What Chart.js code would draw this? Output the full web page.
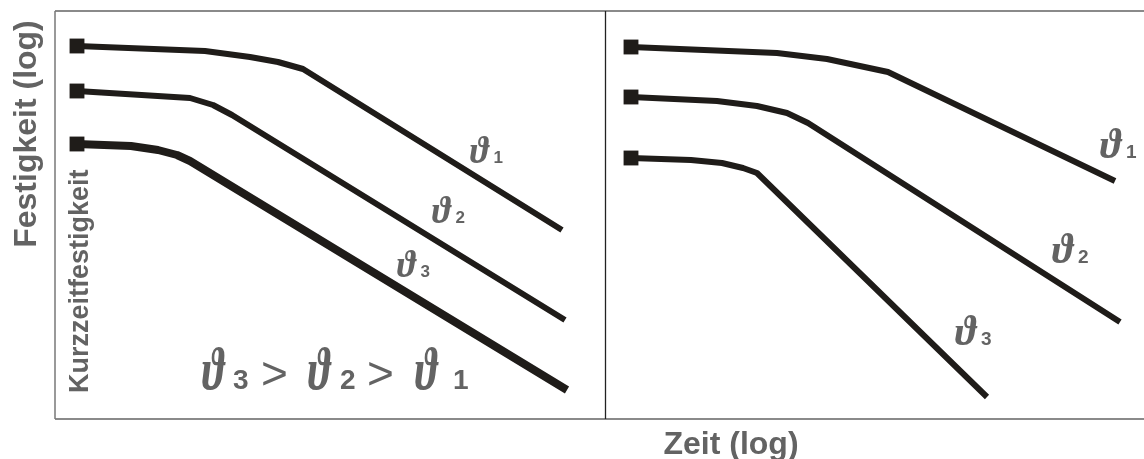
<!DOCTYPE html>
<html>
<head>
<meta charset="utf-8">
<script src="https://cdn.jsdelivr.net/npm/chart.js@4/dist/chart.umd.min.js"></script>
<style>
  html, body { margin: 0; padding: 0; background: #fff; }
  #wrap { width: 1144px; height: 459px; }
</style>
</head>
<body>
<div id="wrap"><canvas id="chart"></canvas></div>
<script>
// Zeitstandkurven, [Zeit (log), Festigkeit (log)] in Diagrammeinheiten
const links1 = [[2.2, 37.3], [15.0, 36.8], [19.5, 36.2], [22.3, 35.7], [24.8, 35.0], [50.7, 18.9]]
const links2 = [[2.2, 32.8], [13.5, 32.1], [15.8, 31.4], [17.7, 30.4], [51.0, 9.9]]
const links3 = [[2.2, 27.5], [7.6, 27.3], [10.3, 26.9], [12.2, 26.4], [13.5, 25.8], [51.2, 2.9]]

const rechts1 = [[57.6, 37.2], [72.2, 36.6], [77.2, 36.0], [83.3, 34.7], [106.0, 23.8]]
const rechts2 = [[57.6, 32.2], [66.2, 31.8], [70.2, 31.3], [73.2, 30.6], [75.3, 29.6], [106.5, 9.7]]
const rechts3 = [[57.6, 26.1], [63.6, 25.9], [66.7, 25.6], [68.8, 25.1], [70.2, 24.6], [93.2, 2.2]]

const zeitMax = 108.9
const festMax = 40.8
const trennung = 55.0 // Grenze zwischen beiden Teilbildern

// Kurvenbeschriftungen: Index, Ankerpunkt (Zeit, Festigkeit), Grösse
const beschriftungen = [
  { index: '1', x: 41.5, y: 25.6, size: 'klein' },
  { index: '2', x: 37.7, y: 19.6, size: 'klein' },
  { index: '3', x: 34.2, y: 14.2, size: 'klein' },
  { index: '1', x: 104.5, y: 26.1, size: 'gross' },
  { index: '2', x: 99.7, y: 15.6, size: 'gross' },
  { index: '3', x: 90.0, y: 7.4, size: 'gross' },
]

const farbeLinie = '#1f1c19'
const farbeText = '#636363'

const toPoints = arr => arr.map(([x, y]) => ({ x, y }))

const curve = (data, width) => ({
  data: toPoints(data),
  borderColor: farbeLinie,
  borderWidth: width,
  borderJoinStyle: 'round',
  tension: 0,
  pointStyle: 'rect',
  pointRadius: ctx => ctx.dataIndex === 0 ? 10.5 : 0,
  pointBackgroundColor: farbeLinie,
  pointBorderWidth: 0,
  clip: false,
})

const theta = '\u03D1'
const thetaFont = px => `bold italic ${px}px "Liberation Serif", "DejaVu Serif", serif`
const digitFont = px => `bold ${px}px "Liberation Sans", Arial, sans-serif`

// ϑ mit Index; sx staucht das ϑ horizontal
const drawTheta = (ctx, x, y, idx, tSize, dSize, gap, sx = 1) => {
  ctx.font = thetaFont(tSize)
  ctx.save()
  ctx.translate(x, y)
  ctx.scale(sx, 1)
  ctx.fillText(theta, 0, 0)
  ctx.restore()
  const w = ctx.measureText(theta).width * sx
  if (idx) {
    ctx.font = digitFont(dSize)
    ctx.fillText(idx, x + w + gap, y)
  }
}

const annotations = {
  id: 'annotations',
  afterDraw(chart) {
    const { ctx, chartArea: a, scales: { x, y } } = chart
    ctx.save()

    // Rahmen
    ctx.strokeStyle = '#8a8a8a'
    ctx.lineWidth = 2
    ctx.beginPath()
    ctx.moveTo(a.left, a.top)
    ctx.lineTo(a.right, a.top)
    ctx.moveTo(a.left, a.bottom)
    ctx.lineTo(a.right, a.bottom)
    ctx.stroke()
    ctx.strokeStyle = '#777'
    ctx.lineWidth = 1.5
    ctx.beginPath()
    ctx.moveTo(a.left, a.top)
    ctx.lineTo(a.left, a.bottom)
    ctx.stroke()

    // Trennlinie
    const xt = Math.round(x.getPixelForValue(trennung)) + 0.5
    ctx.strokeStyle = '#222'
    ctx.lineWidth = 1.3
    ctx.beginPath()
    ctx.moveTo(xt, a.top)
    ctx.lineTo(xt, a.bottom)
    ctx.stroke()

    ctx.fillStyle = farbeText
    ctx.textBaseline = 'alphabetic'

    // Achsentitel
    ctx.font = 'bold 32px "Liberation Sans", Arial, sans-serif'
    ctx.textAlign = 'center'
    ctx.fillText('Zeit (log)', 731, 454)
    ctx.save()
    ctx.translate(36, 134)
    ctx.rotate(-Math.PI / 2)
    ctx.fillText('Festigkeit (log)', 0, 0)
    ctx.restore()

    ctx.save()
    ctx.font = 'bold 27px "Liberation Sans", Arial, sans-serif'
    ctx.textAlign = 'left'
    ctx.translate(88, 393)
    ctx.rotate(-Math.PI / 2)
    ctx.fillText('Kurzzeitfestigkeit', 0, 0)
    ctx.restore()

    // Kurvenbeschriftungen
    ctx.textAlign = 'left'
    beschriftungen.forEach(b => {
      const px = x.getPixelForValue(b.x)
      const py = y.getPixelForValue(b.y)
      if (b.size === 'klein') drawTheta(ctx, px, py, b.index, 37, 17, 5, 0.95)
      else drawTheta(ctx, px, py, b.index, 42, 19, 5, 0.95)
    })

    // Reihenfolge der Temperaturen
    const fx = x.getPixelForValue(14.7)
    const fy = y.getPixelForValue(3.0)
    const runs = [
      [theta, 0, 'theta'], ['3', 31, 'digit'], ['>', 59, 'op'],
      [theta, 106, 'theta'], ['2', 138, 'digit'], ['>', 165, 'op'],
      [theta, 213, 'theta'], ['1', 251, 'digit'],
    ]
    runs.forEach(([t, dx, kind]) => {
      if (kind === 'theta') {
        drawTheta(ctx, fx + dx, fy, '', 60, 0, 0, 0.7)
        return
      }
      ctx.font = kind === 'digit' ? digitFont(28) : '46px "Liberation Sans", Arial, sans-serif'
      ctx.fillText(t, fx + dx, fy)
    })

    ctx.restore()
  }
}

new Chart(document.getElementById('chart'), {
  type: 'line',
  data: {
    datasets: [
      curve(links1, 6),
      curve(links2, 6),
      curve(links3, 8),
      curve(rechts1, 6),
      curve(rechts2, 6),
      curve(rechts3, 6),
    ]
  },
  options: {
    responsive: true,
    maintainAspectRatio: false,
    animation: false,
    layout: { autoPadding: false, padding: { left: 55, right: 0, top: 11, bottom: 40 } },
    scales: {
      x: { type: 'linear', min: 0, max: zeitMax, display: false },
      y: { type: 'linear', min: 0, max: festMax, display: false },
    },
    plugins: {
      legend: { display: false },
      tooltip: { enabled: false },
    },
  },
  plugins: [annotations],
})
</script>
</body>
</html>
